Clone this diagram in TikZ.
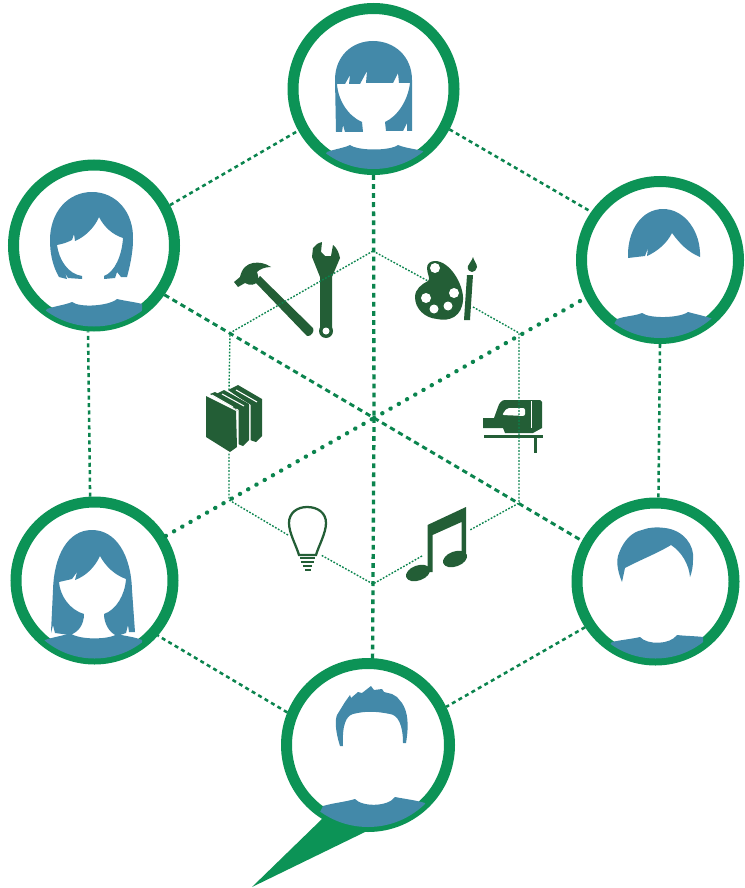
\documentclass[tikz,border=0pt]{standalone}
\usepackage{tikz}
\definecolor{myring}{RGB}{12,147,86}
\definecolor{mybust}{RGB}{67,137,169}
\definecolor{myicon}{RGB}{35,94,54}
\usetikzlibrary{positioning}
\tikzset{iconfill/.style = {fill=myicon, draw=none}}
\newcommand{\bust}[3]{\begin{scope}\clip (#1.center) circle (#2);
  \fill[mybust] #3 -- ++(0,40) -- ++(-120,0) -- cycle;\end{scope}}

\begin{document}
\begin{tikzpicture}[x=0.75pt,y=-0.75pt,
  ringnode/.style={draw=myring,circle,line width=8.25pt,inner sep=0pt},
  spokeline/.style={myring!90!black,line width=2.5pt,dash pattern=on 3.6pt off 3.2pt},
  dotline/.style={myring!90!black,line width=3.2pt,line cap=round,dash pattern=on 0.2pt off 6.9pt},
  diagline/.style={myring!90!black,line width=2.2pt,dash pattern=on 4pt off 3pt},
  outerline/.style={myring!90!black,line width=1.9pt,dash pattern=on 3pt off 2.6pt},
  hexline/.style={myring!90!black,line width=1.05pt,dash pattern=on 1.3pt off 1.2pt},
  ]
  \useasboundingbox (0,0) rectangle (745,888);

  % the people
  \foreach \name/\x/\y/\d in {ptop/373.5/89/120.75,ptl/94/245.5/120.75,ptr/660/260/117.75,
    plb/94.5/580.5/117.75,pbr/655.5/581.5/117.75,pbot/368/745/122.25}
  \node[ringnode,minimum size=\d pt] (\name) at (\x,\y) {};

  % the tail of the bottom ring
  \fill[myring] (323,818) -- (252,887) -- (365,832) -- cycle;

  % the centre and the inner hexagon
  \coordinate (hub) at (374,418);
  \coordinate (h1) at (373,251);
  \coordinate (h2) at (519,333);
  \coordinate (h3) at (519,503);
  \coordinate (h4) at (373,584);
  \coordinate (h5) at (229,500);
  \coordinate (h6) at (230,333);

  % the spokes
  \draw[spokeline] (ptop.south) -- (hub);
  \draw[spokeline] (hub) -- (pbot.87);
  \draw[diagline] (ptl.-35) -- (hub);
  \draw[diagline] (hub) -- (pbr.151);
  \draw[dotline] (plb.32) -- (hub);
  \draw[dotline] (hub) -- (ptr.207);

  % the outer hexagon
  \draw[outerline] (ptl.28) -- (ptop.209);
  \draw[outerline] (ptop.-28) -- (ptr.145);
  \draw[outerline] (ptr.south) -- (pbr.88);
  \draw[outerline] (pbr.213) -- (pbot.26);
  \draw[outerline] (pbot.158) -- (plb.-41.5);
  \draw[outerline] (plb.93) -- (ptl.266);

  % the icons
  % hammer
  \fill[iconfill] (255,282) -- (260,276) -- (313,328) .. controls (315,331) and (311,337) .. (307,336) -- cycle;
  \fill[iconfill] (234,282) -- (238,287) -- (245,283) .. controls (250,286) and (255,285) .. (257,282)
    .. controls (259,279) and (258,275) .. (257,272)
    .. controls (260,269) and (265,267) .. (271,267) .. controls (265,263) and (259,262) .. (253,263)
    .. controls (247,264) and (242,268) .. (240,277) -- cycle;
  % wrench
  \fill[iconfill] (320,331) -- (320,277) -- (312,257) -- (313,248)
    .. controls (315,245) and (318,243) .. (322,242) -- (321,252) -- (325,256) -- (331,256)
    -- (333,245) .. controls (337,248) and (339,253) .. (340,258) -- (332,277) -- (332,331) -- cycle;
  \fill[iconfill] (326,331) circle (7);
  \fill[white] (326,331) circle (3.5);
  % palette
  \fill[iconfill] (435,261) .. controls (430,261) and (427,264) .. (427,268)
    .. controls (427,274) and (431,279) .. (428,281) .. controls (422,284) and (415,289) .. (415,297)
    .. controls (415,309) and (425,318) .. (437,319) .. controls (450,322) and (462,316) .. (463,300)
    .. controls (464,285) and (450,261) .. (435,261) -- cycle;
  \foreach \x/\y/\r in {435/268/5,454/293/5,426/298/5,434/309/4.5,448/306/4.5}
  \fill[white] (\x,\y) circle (\r);
  % brush
  \fill[iconfill] (467,275) -- (473,275) -- (470,320) -- (464,320) -- cycle;
  \fill[iconfill] (473,257) .. controls (474,261) and (477,264) .. (477,267)
    .. controls (477,270) and (474,272) .. (472,272) .. controls (470,272) and (467,270) .. (468,266)
    .. controls (469,263) and (472,261) .. (473,257) -- cycle;
  % books
  \fill[iconfill] (228,390) -- (238,385) -- (262,399) -- (262,436) -- (256,442) -- (250,440) -- (250,405) -- cycle;
  \draw[white,line width=0.8pt] (250,405) -- (228,392) (250,405) -- (250,441) (236,390) -- (257,402);
  \fill[iconfill] (214,395) -- (224,390) -- (249,404) -- (249,440) -- (243,446) -- (238,444) -- (238,411) -- cycle;
  \draw[white,line width=0.8pt] (238,410) -- (214,397) (238,410) -- (238,445) (222,394) -- (244,406);
  \fill[iconfill] (206,396) -- (236,411) -- (237,447) -- (230,452) -- (206,437) -- cycle;
  \fill[iconfill] (210,394) -- (215,392) -- (240,406) -- (236,409) -- cycle;
  \draw[white,line width=0.7pt] (212,395) -- (233,407);
  % jigsaw
  \fill[iconfill] (483,418) -- (494,418) -- (498,407) .. controls (499,403) and (502,400) .. (505,400)
    -- (540,400) -- (542,402) -- (542,428) -- (533,433) -- (505,433) -- (503,428) -- (483,428) -- cycle;
  \fill[white,rounded corners=1.5pt] (502,415) -- (507,408) -- (525,408) -- (525,416) -- cycle;
  \draw[white,line width=0.6pt] (531,401) -- (531,428);
  \fill[iconfill] (484,435) rectangle (543,438);
  \fill[iconfill] (534,438) rectangle (537,453);
  % bulb
  \draw[myicon,line width=1.7pt] (299,555) .. controls (296,545) and (289,533) .. (289,523)
    .. controls (289,513) and (297,507) .. (307,507) .. controls (318,507) and (326,513) .. (326,523)
    .. controls (326,533) and (319,545) .. (316,555) -- cycle;
  \foreach \x/\y/\w in {300/558/15,301/562/13,303/566/9,305/570/6}
  \draw[myicon,line width=1.5pt] (\x,\y) -- ++(\w,0);
  % notes
  \fill[iconfill] (427.5,525) -- (466,507) -- (466,557) -- (461.5,557) -- (461.5,522) -- (432.5,535) -- (432.5,572) -- (427.5,572) -- cycle;
  \fill[iconfill,rotate around={20:(455,559)}] (455,559) ellipse (12.5 and 7.5);
  \fill[iconfill,rotate around={20:(418,573)}] (418,573) ellipse (12.5 and 7.5);

  % the gaps in the inner hexagon
  \coordinate (g1) at (428,281);
  \coordinate (g2) at (473,307);
  \coordinate (g3) at (470,530);
  \coordinate (g4) at (422,556);
  \coordinate (g5) at (321,555);
  \coordinate (g6) at (288,535);
  \coordinate (g7) at (229,452);
  \coordinate (g8) at (229,390);

  \draw[hexline] (h1) -- (g1);
  \draw[hexline] (g2) -- (h2) -- (h3) -- (g3);
  \draw[hexline] (g4) -- (h4) -- (g5);
  \draw[hexline] (g6) -- (h5) -- (g7);
  \draw[hexline] (g8) -- (h6) -- (h1);

  % the hair
  \fill[mybust] (336,132) -- (335,80) .. controls (335,56) and (352,41) .. (373,41)
    .. controls (394,41) and (412,56) .. (412,80) -- (412,131) -- (407,131) -- (407,123) -- (403,131)
    -- (386,131) -- (385,122) .. controls (398,116) and (408,100) .. (410,83) -- (399,83) -- (398,73)
    -- (393,83) -- (366,83) -- (367,71) -- (360,84) -- (349,84) -- (350,75) -- (345,84) -- (337,84)
    .. controls (338,100) and (348,116) .. (362,122) -- (363,132) -- (345,132) -- (343,125) -- (342,132) -- cycle;
  \fill[mybust] (59,277) .. controls (52,265) and (50,252) .. (50,240) .. controls (50,212) and (68,192) .. (92,192)
    .. controls (116,192) and (134,212) .. (133,240) .. controls (133,252) and (130,266) .. (127,277)
    -- (121,277) -- (117,272) -- (115,278) -- (104,279) -- (104,276) .. controls (115,272) and (122,255) .. (123,238)
    .. controls (113,235) and (104,227) .. (99,217) .. controls (95,227) and (85,237) .. (75,241)
    -- (74,234) -- (72,240) .. controls (66,243) and (62,244) .. (57,245)
    .. controls (59,260) and (68,274) .. (82,276) -- (82,279) -- (68,278) -- (65,273) -- (67,279) -- cycle;
  \fill[mybust] (628,258) .. controls (627,230) and (642,209) .. (663,209) .. controls (685,209) and (701,232) .. (700,257)
    .. controls (688,252) and (680,244) .. (672,233) .. controls (667,243) and (658,251) .. (647,256)
    -- (648,248) -- (645,256) -- cycle;
  \fill[mybust] (51,632) -- (53,590) .. controls (54,555) and (68,530) .. (92,530) .. controls (116,530) and (131,555) .. (132,590)
    -- (135,632) -- (129,632) -- (128,625) -- (126,633) -- (117,636) .. controls (108,632) and (104,622) .. (104,614)
    .. controls (116,610) and (125,595) .. (126,579) .. controls (115,575) and (106,567) .. (100,556)
    .. controls (95,567) and (86,576) .. (75,580) -- (77,572) -- (72,579) -- (59,582)
    .. controls (60,596) and (70,610) .. (84,614) .. controls (84,624) and (79,632) .. (70,635)
    -- (55,633) -- (53,625) -- (51,633) -- cycle;
  \fill[mybust] (622,582) .. controls (617,570) and (616,560) .. (619,553) .. controls (624,540) and (632,532) .. (642,530)
    .. controls (650,527) and (657,527) .. (665,528) .. controls (683,530) and (695,545) .. (693,560)
    .. controls (693,566) and (692,572) .. (690,577) .. controls (689,565) and (682,552) .. (671,545)
    .. controls (658,553) and (640,560) .. (625,568) -- cycle;
  \fill[mybust] (340,746) .. controls (335,730) and (335,720) .. (337,715) -- (345,702) -- (350,695) -- (351,698)
    -- (358,692) -- (362,693) -- (371,686) -- (374,690) -- (382,689) -- (384,692) -- (392,694) -- (397,697) -- (402,703)
    .. controls (408,712) and (409,725) .. (406,743) -- (403,743) .. controls (403,725) and (398,715) .. (390,714)
    .. controls (375,711) and (365,711) .. (353,714) .. controls (346,716) and (342,725) .. (343,746) -- cycle;

  % the shoulders
  \bust{ptop}{80}{(327,152) .. controls (335,149) and (344,148) .. (350,145) .. controls (358,151) and (390,151) .. (398,145) .. controls (405,148) and (415,149) .. (423,151)}
  \bust{ptl}{81}{(47,309) .. controls (55,306) and (65,305) .. (72,302) .. controls (80,308) and (109,306) .. (117,299) .. controls (125,301) and (135,302) .. (142,304)}
  \bust{ptr}{78}{(617,319) .. controls (625,316) and (635,316) .. (642,313) .. controls (650,319) and (680,318) .. (688,312) .. controls (695,314) and (705,316) .. (713,319)}
  \bust{plb}{78}{(45,640) .. controls (53,637) and (63,636) .. (70,633) .. controls (78,640) and (109,640) .. (117,634) .. controls (125,636) and (135,637) .. (142,640)}
  \bust{pbr}{77}{(612,642) .. controls (620,640) and (632,639) .. (640,637) .. controls (647,645) and (670,645) .. (677,635) .. controls (685,636) and (695,636) .. (703,637)}
  \bust{pbot}{82}{(323,806) .. controls (333,803) and (345,802) .. (355,799) .. controls (362,807) and (388,807) .. (395,797) .. controls (405,799) and (415,800) .. (425,803)}
\end{tikzpicture}
\end{document}
